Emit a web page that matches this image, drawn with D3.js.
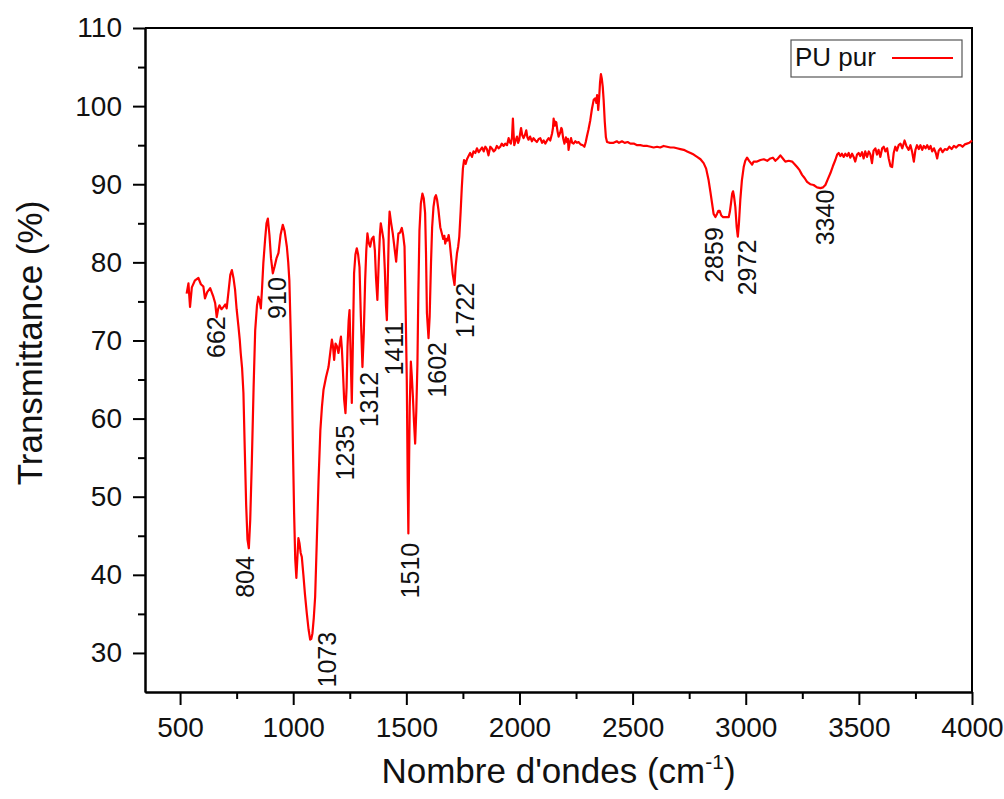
<!DOCTYPE html>
<html>
<head>
<meta charset="utf-8">
<script src="https://cdn.jsdelivr.net/npm/d3@7"></script>
<style>
  body { margin: 0; background: #fff; }
  svg { font-family: "Liberation Sans", Arial, sans-serif; }
</style>
</head>
<body>
<div id="chart"></div>
<script>
// FTIR spectrum, PU pur : [wavenumber cm-1, transmittance %]
const spectrumPoints = [
  [529,76.0],[537,77.3],[544,74.3],[552,76.8],[566,77.7],[581,78.0],[592,77.2],[603,76.9],[610,75.4],[620,76.2],
  [633,76.7],[647,75.6],[655,74.8],[662,73.0],[668,74.0],[674,74.5],[683,74.0],[692,74.3],[700,74.6],[706,74.1],
  [715,76.5],[722,78.4],[729,79.0],[736,78.0],[743,76.5],[750,74.0],[758,71.8],[764,70.0],[768,68.4],[774,66.5],
  [780,63.3],[786,56.0],[792,49.0],[798,44.5],[804,43.4],[810,47.0],[817,54.3],[825,64.0],[832,71.3],[840,74.5],
  [846,75.6],[852,75.0],[857,74.1],[862,76.5],[868,79.9],[876,83.0],[882,85.0],[888,85.6],[895,83.5],[902,80.5],
  [910,78.6],[918,79.5],[926,80.5],[935,81.2],[944,83.5],[954,84.8],[962,84.0],[972,82.0],[978,80.0],[983,77.7],
  [989,71.0],[994,64.9],[999,56.0],[1004,47.9],[1009,42.0],[1014,39.6],[1019,42.5],[1023,44.7],[1028,44.0],[1033,42.8],
  [1038,42.3],[1045,40.0],[1052,37.5],[1060,35.1],[1068,33.0],[1075,31.7],[1080,31.8],[1085,32.5],[1091,34.5],[1097,37.2],
  [1104,44.0],[1112,52.1],[1120,58.5],[1127,61.5],[1134,63.7],[1145,65.3],[1156,66.6],[1164,68.5],[1171,70.1],[1176,69.2],
  [1181,67.5],[1187,69.6],[1193,69.3],[1200,68.4],[1206,69.6],[1211,70.5],[1215,69.0],[1219,66.6],[1225,62.5],[1231,60.7],
  [1236,64.0],[1240,69.2],[1245,72.5],[1249,73.9],[1254,68.0],[1259,62.0],[1264,70.0],[1269,78.6],[1275,81.0],[1281,81.8],
  [1287,81.0],[1293,79.4],[1299,73.0],[1306,66.6],[1312,71.0],[1318,77.7],[1323,81.5],[1328,83.7],[1334,82.5],[1340,82.0],
  [1347,83.0],[1355,83.3],[1361,81.5],[1366,78.0],[1372,75.2],[1378,80.0],[1383,83.5],[1387,85.0],[1393,84.0],[1399,82.9],
  [1405,79.0],[1410,74.5],[1414,72.6],[1419,79.0],[1423,84.5],[1426,86.5],[1433,85.0],[1440,83.7],[1447,82.0],[1455,80.1],
  [1460,82.0],[1465,83.7],[1472,83.8],[1480,84.4],[1486,83.5],[1492,82.0],[1497,74.0],[1502,64.9],[1506,52.0],[1509,45.3],
  [1512,54.0],[1515,61.5],[1520,67.3],[1524,65.5],[1529,62.8],[1534,59.5],[1539,56.8],[1544,61.0],[1549,67.0],[1553,76.0],
  [1558,84.1],[1564,87.5],[1571,88.8],[1577,88.2],[1583,86.3],[1587,81.0],[1591,73.5],[1598,70.3],[1603,73.0],[1609,79.9],
  [1614,84.5],[1620,87.1],[1626,88.3],[1631,88.6],[1636,88.0],[1642,86.7],[1650,84.5],[1657,83.7],[1663,83.0],[1668,83.4],
  [1672,82.4],[1677,83.0],[1682,82.8],[1687,83.5],[1692,82.5],[1698,80.7],[1705,78.5],[1713,77.1],[1718,79.5],[1724,81.2],
  [1729,82.0],[1734,83.3],[1740,86.5],[1745,89.5],[1750,92.0],[1755,93.1],[1762,92.6],[1768,93.2],[1775,93.6],[1782,94.0],
  [1790,93.5],[1797,94.2],[1805,94.0],[1812,94.6],[1820,94.1],[1827,94.4],[1835,94.7],[1842,94.2],[1849,94.8],[1856,94.5],
  [1863,93.7],[1871,94.8],[1880,94.5],[1886,94.2],[1893,94.4],[1900,94.9],[1908,94.6],[1915,94.8],[1922,95.2],[1930,94.9],
  [1937,95.2],[1945,95.0],[1952,95.9],[1957,95.4],[1962,95.2],[1967,96.0],[1971,98.4],[1974,96.5],[1977,95.0],[1983,95.6],
  [1989,96.1],[1994,95.3],[1999,95.7],[2003,96.5],[2007,97.2],[2012,96.3],[2018,95.9],[2024,96.3],[2030,96.9],[2035,96.0],
  [2040,95.7],[2047,96.1],[2055,95.5],[2062,95.9],[2070,95.6],[2077,95.4],[2085,95.8],[2092,95.9],[2100,95.3],[2107,95.6],
  [2114,95.2],[2122,95.6],[2129,95.9],[2136,95.6],[2144,96.5],[2148,97.2],[2151,98.4],[2156,97.5],[2160,98.0],[2163,97.9],
  [2168,96.8],[2173,96.1],[2180,96.6],[2185,97.2],[2188,97.0],[2193,95.9],[2199,95.2],[2205,96.0],[2210,95.4],[2214,95.8],
  [2217,94.4],[2222,95.3],[2228,95.9],[2233,95.3],[2239,95.2],[2247,95.5],[2254,95.3],[2261,95.4],[2270,95.1],[2280,95.0],
  [2287,94.8],[2293,95.4],[2298,96.1],[2305,97.0],[2313,98.2],[2320,99.6],[2328,100.8],[2335,101.0],[2340,100.4],[2343,101.4],
  [2346,100.5],[2348,99.5],[2352,101.0],[2356,103.0],[2360,104.1],[2364,103.5],[2368,102.5],[2372,100.8],[2377,98.0],[2382,96.0],
  [2387,95.4],[2400,95.3],[2416,95.3],[2430,95.5],[2440,95.3],[2453,95.5],[2465,95.3],[2478,95.4],[2490,95.2],[2505,95.2],
  [2520,95.0],[2534,95.0],[2550,94.9],[2565,94.9],[2580,94.8],[2593,94.7],[2608,94.8],[2622,94.7],[2637,94.9],[2652,94.8],
  [2667,94.7],[2682,94.7],[2696,94.6],[2711,94.5],[2726,94.4],[2741,94.2],[2756,94.0],[2770,93.8],[2785,93.5],[2800,93.2],
  [2814,92.7],[2825,92.0],[2836,90.5],[2844,89.0],[2851,87.6],[2858,86.2],[2866,85.8],[2873,86.2],[2879,86.6],[2885,86.6],
  [2892,86.0],[2900,85.8],[2910,85.8],[2920,85.8],[2925,85.8],[2930,86.5],[2935,87.6],[2940,88.8],[2944,89.1],[2948,88.5],
  [2954,87.1],[2960,84.5],[2965,83.3],[2970,85.0],[2976,88.0],[2983,90.5],[2991,92.2],[2998,93.0],[3006,93.4],[3015,93.0],
  [3028,92.5],[3035,92.9],[3050,92.9],[3065,93.1],[3080,93.2],[3095,93.0],[3109,93.3],[3120,93.4],[3131,93.0],[3142,93.3],
  [3153,93.7],[3164,93.3],[3175,92.9],[3190,93.0],[3205,92.9],[3215,92.6],[3227,92.2],[3238,91.8],[3249,91.2],[3260,90.8],
  [3271,90.3],[3285,90.0],[3300,89.9],[3315,89.6],[3330,89.5],[3342,89.6],[3352,89.9],[3362,90.6],[3374,91.4],[3385,92.3],
  [3396,93.1],[3404,93.8],[3411,94.0],[3418,93.6],[3425,93.9],[3433,93.5],[3440,93.9],[3448,93.6],[3455,94.0],[3462,93.4],
  [3470,93.9],[3477,93.5],[3484,92.9],[3492,93.8],[3499,94.0],[3506,93.6],[3514,94.1],[3521,93.3],[3528,94.2],[3536,93.5],
  [3544,94.2],[3551,93.8],[3558,92.7],[3565,94.3],[3573,94.6],[3580,93.8],[3587,94.4],[3595,93.5],[3603,94.6],[3610,94.8],
  [3617,94.2],[3625,94.6],[3632,93.3],[3640,92.3],[3647,92.2],[3654,94.0],[3661,94.8],[3668,94.3],[3676,95.0],[3684,95.2],
  [3692,94.6],[3702,95.6],[3710,94.9],[3720,94.4],[3728,95.0],[3735,94.2],[3743,92.9],[3750,94.4],[3757,95.0],[3765,94.5],
  [3772,95.0],[3780,94.4],[3787,94.9],[3795,94.6],[3802,95.0],[3810,94.5],[3817,94.9],[3824,94.2],[3832,94.6],[3840,94.0],
  [3846,93.3],[3853,94.3],[3861,94.6],[3870,94.1],[3880,94.5],[3890,94.4],[3900,94.8],[3910,94.5],[3920,94.9],[3930,94.7],
  [3940,95.0],[3949,95.0],[3958,94.8],[3968,95.1],[3978,95.2],[3988,95.3],[4000,95.6]
];

// peak annotations: label, x position (cm-1), top of text (%)
const peakLabels = ["662", "804", "910", "1073", "1235", "1312", "1411", "1510", "1602", "1722", "2859", "2972", "3340"];
const peakLabelX = [661, 787, 929, 1149, 1230, 1336, 1446, 1516, 1636, 1760, 2858, 3006, 3352];
const peakLabelTop = [73.1, 42.4, 78.1, 32.7, 59.2, 66.0, 72.4, 44.1, 69.8, 77.4, 84.5, 82.9, 89.3];

const xMajorTicks = [500, 1000, 1500, 2000, 2500, 3000, 3500, 4000];
const xMinorTicks = [750, 1250, 1750, 2250, 2750, 3250, 3750];
const yMajorTicks = [30, 40, 50, 60, 70, 80, 90, 100, 110];
const yMinorTicks = [35, 45, 55, 65, 75, 85, 95, 105];

const seriesName = "PU pur";

const W = 1004, H = 799;
const plot = { left: 145, right: 972, top: 28, bottom: 692 };

const svg = d3.select("#chart").append("svg")
  .attr("width", W)
  .attr("height", H);

const x = d3.scaleLinear().domain([345, 4000]).range([plot.left, plot.right]);
const y = d3.scaleLinear().domain([25, 110]).range([plot.bottom, plot.top]);

// axes
const styleAxis = g => {
  g.select(".domain").attr("stroke", "#000").attr("stroke-width", 2);
  g.selectAll(".tick line").attr("stroke", "#000").attr("stroke-width", 2);
  g.selectAll(".tick text").attr("fill", "#111").attr("font-size", "28px")
    .attr("font-family", "'Liberation Sans', Arial, sans-serif");
};

svg.append("g")
  .attr("transform", `translate(0,${plot.bottom})`)
  .call(d3.axisBottom(x).tickValues(xMinorTicks).tickSize(7).tickSizeOuter(0).tickFormat(""))
  .call(styleAxis);

svg.append("g")
  .attr("transform", `translate(0,${plot.bottom})`)
  .call(d3.axisBottom(x).tickValues(xMajorTicks).tickSize(13).tickSizeOuter(0).tickPadding(12).tickFormat(d3.format("d")))
  .call(styleAxis);

svg.append("g")
  .attr("transform", `translate(${plot.left},0)`)
  .call(d3.axisLeft(y).tickValues(yMinorTicks).tickSize(7).tickSizeOuter(0).tickFormat(""))
  .call(styleAxis);

svg.append("g")
  .attr("transform", `translate(${plot.left},0)`)
  .call(d3.axisLeft(y).tickValues(yMajorTicks).tickSize(12).tickSizeOuter(0).tickPadding(11).tickFormat(d3.format("d")))
  .call(styleAxis);

// top and right frame
svg.append("path")
  .attr("d", `M${plot.left},${plot.top}H${plot.right}V${plot.bottom}`)
  .attr("fill", "none")
  .attr("stroke", "#000")
  .attr("stroke-width", 2);

// spectrum
const line = d3.line()
  .x(d => x(d[0]))
  .y(d => y(d[1]));

svg.append("path")
  .datum(spectrumPoints)
  .attr("d", line)
  .attr("fill", "none")
  .attr("stroke", "#ff0000")
  .attr("stroke-width", 2.2)
  .attr("stroke-linejoin", "round");

// peak labels
svg.append("g")
  .selectAll("text")
  .data(peakLabels)
  .join("text")
  .attr("transform", (d, i) => `translate(${x(peakLabelX[i])},${y(peakLabelTop[i])}) rotate(-90)`)
  .attr("text-anchor", "end")
  .attr("dominant-baseline", "central")
  .attr("font-size", "25px")
  .attr("fill", "#111")
  .text(d => d);

// axis titles
const xTitle = svg.append("text")
  .attr("x", (plot.left + plot.right) / 2)
  .attr("y", 783)
  .attr("text-anchor", "middle")
  .attr("font-size", "35px")
  .attr("fill", "#111");
xTitle.append("tspan").text("Nombre d'ondes (cm");
xTitle.append("tspan").attr("font-size", "21px").attr("dy", -14).text("-1");
xTitle.append("tspan").attr("dy", 14).text(")");

svg.append("text")
  .attr("transform", `translate(42,343) rotate(-90)`)
  .attr("text-anchor", "middle")
  .attr("font-size", "35px")
  .attr("fill", "#111")
  .text("Transmittance (%)");

// legend
const legend = svg.append("g").attr("transform", "translate(791,40)");
legend.append("rect")
  .attr("width", 171)
  .attr("height", 37)
  .attr("fill", "#fff")
  .attr("stroke", "#555")
  .attr("stroke-width", 1.2);
legend.append("text")
  .attr("x", 4)
  .attr("y", 26)
  .attr("font-size", "26px")
  .attr("fill", "#111")
  .text(seriesName);
legend.append("line")
  .attr("x1", 101).attr("x2", 162)
  .attr("y1", 18).attr("y2", 18)
  .attr("stroke", "#ff0000")
  .attr("stroke-width", 2);
</script>
</body>
</html>
